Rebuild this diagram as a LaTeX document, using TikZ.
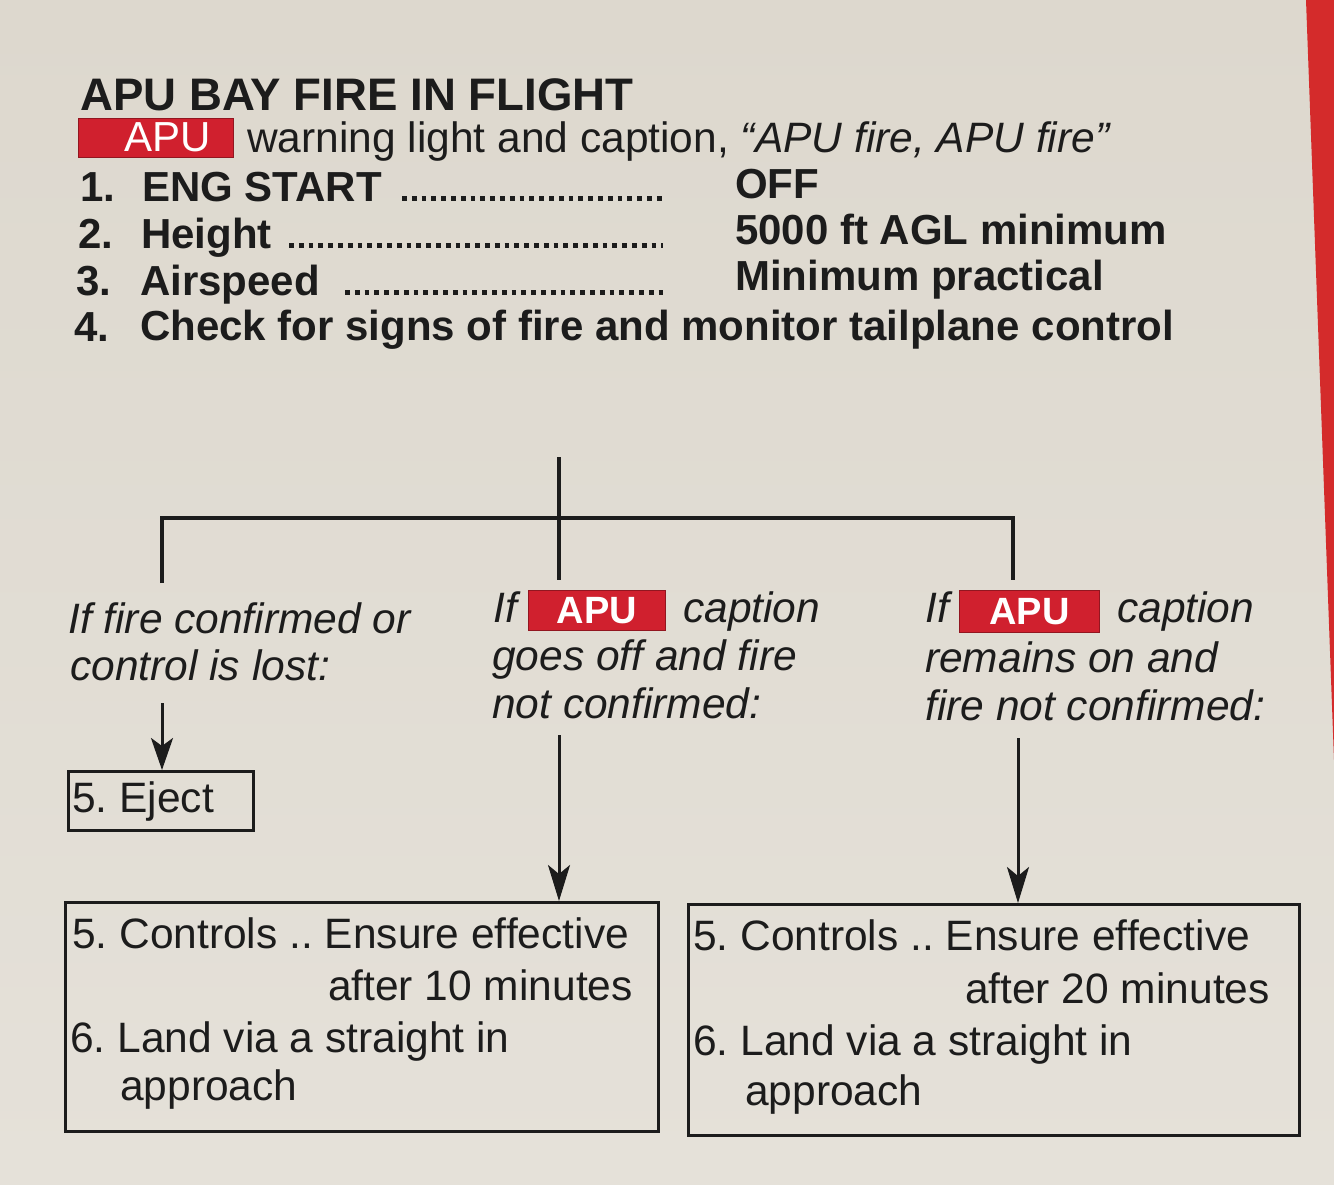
\documentclass[tikz,border=0pt]{standalone}
\usepackage{fontspec}
\setmainfont{Liberation Sans}
\usetikzlibrary{arrows.meta}
\frenchspacing
\definecolor{paper}{HTML}{E5E1D9}
\definecolor{papertop}{HTML}{DDD8CE}
\definecolor{ink}{HTML}{1C1C1C}
\definecolor{apured}{HTML}{D0202E}
\definecolor{strip}{HTML}{D42B2B}
\newcommand\bodyfs{\fontsize{42.5}{50}\selectfont}
\newcommand\boldfs{\fontsize{42}{50}\selectfont\bfseries}
\newcommand\titlefs{\fontsize{45.6}{54}\selectfont\bfseries}
\begin{document}
\begin{tikzpicture}[x=1pt,y=-1pt,
  txt/.style={anchor=base west,inner sep=0pt,text=ink,font=\bodyfs},
  itx/.style={txt,font=\bodyfs\itshape},
  btx/.style={txt,font=\boldfs},
  apubox/.style={draw=apured!70!black,line width=1pt,fill=apured,text=white,inner sep=0pt,
    font=\fontsize{38}{40}\selectfont\bfseries},
  tree/.style={draw=ink,line width=3.5pt},
  boxline/.style={draw=ink,line width=2.6pt},
  arr/.style={draw=ink,line width=3pt,-{Stealth[length=36pt,width=22pt,inset=9pt]}},
  smallarr/.style={draw=ink,line width=3pt,-{Stealth[length=32pt,width=22pt,inset=8pt]}},
  leader/.style={draw=ink,line width=4.8pt,dash pattern=on 4.8pt off 5pt}
]
\useasboundingbox (0,0) rectangle (1334,1184);
\shade[top color=papertop,bottom color=paper] (0,0) rectangle (1334,1184);
\fill[strip] (1306,0) -- (1334,0) -- (1334,760) -- cycle;

% heading
\node[txt,font=\titlefs] (title) at (80,110) {APU BAY FIRE IN FLIGHT};
\node[apubox,minimum width=155pt,minimum height=39pt,anchor=north west] (apu0) at (78,118) {};
\node[anchor=center,inner sep=0pt,text=white,font=\fontsize{42}{44}\selectfont] (apu0t) at (168,137.5) {APU};
\node[txt] (warn) at (247,152) {warning light and caption, \textit{“APU fire, APU fire”}};

% checklist
\node[btx] (n1) at (80,201) {1.};
\node[btx] (i1) at (142,201) {ENG START};
\node[btx] (v1) at (735,198) {OFF};
\node[btx] (n2) at (78,248) {2.};
\node[btx] (i2) at (141,248) {Height};
\node[btx] (v2) at (735,244) {5000 ft AGL minimum};
\node[btx] (n3) at (76,295) {3.};
\node[btx] (i3) at (140,295) {Airspeed};
\node[btx] (v3) at (735,290) {Minimum practical};
\node[btx] (n4) at (74,341) {4.};
\node[btx] (i4) at (140,340) {Check for signs of fire and monitor tailplane control};
\draw[leader] (402,198.6) -- (663,198.6);
\draw[leader] (289,245.6) -- (663,245.6);
\draw[leader] (345,292.6) -- (663,292.6);

% tree
\coordinate (top) at (559,457);
\coordinate (lend) at (162,583);
\coordinate (mend) at (559,580);
\coordinate (rend) at (1013,580);
\draw[tree] (lend) |- (rend |- 0,518) -- (rend);
\draw[tree] (top) -- (mend);

% conditions
\node[itx] (c1a) at (68,633) {If fire confirmed or};
\node[itx] (c1b) at (70,680) {control is lost:};

\node[itx] (c2if) at (493,622) {If};
\node[apubox,minimum width=137pt,minimum height=40pt,anchor=north west] (apu2) at (528,590) {APU};
\node[itx] (c2cap) at (683,622) {caption};
\node[itx] (c2b) at (492,670) {goes off and fire};
\node[itx] (c2c) at (492,718) {not confirmed:};

\node[itx] (c3if) at (925,622) {If};
\node[apubox,minimum width=140pt,minimum height=42pt,anchor=north west] (apu3) at (959,590) {APU};
\node[itx] (c3cap) at (1117,622) {caption};
\node[itx] (c3b) at (925,672) {remains on and};
\node[itx] (c3c) at (925,720) {fire not confirmed:};

% action boxes
\node[boxline,minimum width=185pt,minimum height=59pt,anchor=north west,inner sep=0pt] (eject) at (67,770) {};
\node[txt] (ejectt) at (72,812) {5. Eject};

\node[boxline,minimum width=593pt,minimum height=229pt,anchor=north west,inner sep=0pt] (boxA) at (64,901) {};
\node[txt] (a1) at (72,948) {5. Controls .. Ensure effective};
\node[txt,anchor=base east] (a2) at (633,1000) {after 10 minutes};
\node[txt] (a3) at (70,1052) {6. Land via a straight in};
\node[txt] (a4) at (120,1100) {approach};

\node[boxline,minimum width=611pt,minimum height=231pt,anchor=north west,inner sep=0pt] (boxB) at (687,903) {};
\node[txt] (b1) at (693,950) {5. Controls .. Ensure effective};
\node[txt,anchor=base east] (b2) at (1270,1003) {after 20 minutes};
\node[txt] (b3) at (693,1055) {6. Land via a straight in};
\node[txt] (b4) at (745,1105) {approach};

% arrows
\coordinate (s1) at (162,703);
\coordinate (s2) at (559,735);
\coordinate (s3) at (1018,738);
\draw[smallarr] (s1) -- (s1 |- eject.north);
\draw[arr] (s2) -- (s2 |- boxA.north);
\draw[arr] (s3) -- (s3 |- boxB.north);
\end{tikzpicture}
\end{document}
